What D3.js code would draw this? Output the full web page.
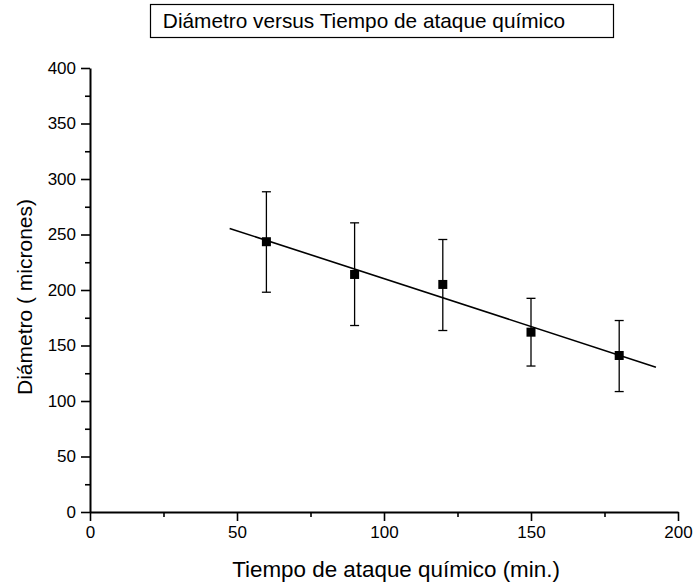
<!DOCTYPE html>
<html>
<head>
<meta charset="utf-8">
<script src="https://cdn.jsdelivr.net/npm/d3@7"></script>
<style>
  body { margin: 0; background: #fff; }
  svg text { font-family: "Liberation Sans", Arial, sans-serif; fill: #000; }
</style>
</head>
<body>
<div id="main"></div>
<script>
// tiempo de ataque (min) y diametro medido (micrones)
var tiempo   = [60, 90, 120, 150, 180];
var diametro = [243.5, 214, 205, 162, 141];
var errSup   = [288.5, 260.5, 245.5, 192.5, 172.5];
var errInf   = [198, 168, 163.5, 131.5, 108.5];

// recta de ajuste (extremos)
var ajusteX = [47.5, 192.5];
var ajusteY = [255.5, 130.5];

var xMayores = [0, 50, 100, 150, 200];
var xMenores = [25, 75, 125, 175];
var yMayores = [0, 50, 100, 150, 200, 250, 300, 350, 400];
var yMenores = [25, 75, 125, 175, 225, 275, 325, 375];

var width = 693,
    height = 582;

var svg = d3.select("#main")
  .append("svg")
    .attr("width", width)
    .attr("height", height)
    .style("background-color", "white");

var x = d3.scaleLinear().domain([0, 200]).range([90, 678]);
var y = d3.scaleLinear().domain([0, 400]).range([512, 68]);

/* titulo con recuadro */
svg.append("rect")
  .attr("x", 150.5).attr("y", 4.5)
  .attr("width", 463).attr("height", 33)
  .attr("fill", "none").attr("stroke", "#000").attr("stroke-width", 1.2);

svg.append("text")
  .attr("x", 364).attr("y", 28)
  .attr("text-anchor", "middle")
  .style("font-size", "20.8px")
  .text("Diámetro versus Tiempo de ataque químico");

/* ejes */
svg.append("g")
  .attr("transform", "translate(0," + y(0) + ")")
  .call(d3.axisBottom(x).tickValues(xMayores).tickSize(9).tickSizeOuter(0).tickPadding(5));
svg.append("g")
  .attr("transform", "translate(0," + y(0) + ")")
  .call(d3.axisBottom(x).tickValues(xMenores).tickSize(5).tickFormat(""))
  .select(".domain").remove();

svg.append("g")
  .attr("transform", "translate(" + x(0) + ",0)")
  .call(d3.axisLeft(y).tickValues(yMayores).tickSize(9).tickSizeOuter(0).tickPadding(5));
svg.append("g")
  .attr("transform", "translate(" + x(0) + ",0)")
  .call(d3.axisLeft(y).tickValues(yMenores).tickSize(5).tickFormat(""))
  .select(".domain").remove();

svg.selectAll(".domain").attr("stroke-width", 2);
svg.selectAll(".tick line").attr("stroke-width", 1.6);
svg.selectAll(".tick text").style("font-size", "17px").style("font-family", "'Liberation Sans', Arial, sans-serif");

/* titulos de ejes */
svg.append("text")
  .attr("x", 396).attr("y", 577)
  .attr("text-anchor", "middle")
  .style("font-size", "22.4px")
  .text("Tiempo de ataque químico (min.)");

svg.append("text")
  .attr("transform", "translate(32,297) rotate(-90)")
  .attr("text-anchor", "middle")
  .style("font-size", "21px")
  .text("Diámetro ( micrones)");

/* recta de ajuste */
var linea = d3.line()
  .x(function(d) { return x(d[0]); })
  .y(function(d) { return y(d[1]); });

svg.append("path")
  .datum(d3.zip(ajusteX, ajusteY))
  .attr("d", linea)
  .attr("fill", "none")
  .attr("stroke", "#000")
  .attr("stroke-width", 1.6);

/* barras de error */
var barras = svg.selectAll(".err")
  .data(tiempo)
  .enter().append("g")
    .attr("class", "err");

barras.append("line")
  .attr("x1", function(d) { return x(d); })
  .attr("x2", function(d) { return x(d); })
  .attr("y1", function(d, i) { return y(errSup[i]); })
  .attr("y2", function(d, i) { return y(errInf[i]); })
  .attr("stroke", "#000").attr("stroke-width", 1.3);

barras.append("line")
  .attr("x1", function(d) { return x(d) - 4.5; })
  .attr("x2", function(d) { return x(d) + 4.5; })
  .attr("y1", function(d, i) { return y(errSup[i]); })
  .attr("y2", function(d, i) { return y(errSup[i]); })
  .attr("stroke", "#000").attr("stroke-width", 1.3);

barras.append("line")
  .attr("x1", function(d) { return x(d) - 4.5; })
  .attr("x2", function(d) { return x(d) + 4.5; })
  .attr("y1", function(d, i) { return y(errInf[i]); })
  .attr("y2", function(d, i) { return y(errInf[i]); })
  .attr("stroke", "#000").attr("stroke-width", 1.3);

/* puntos */
svg.selectAll(".punto")
  .data(tiempo)
  .enter().append("rect")
    .attr("class", "punto")
    .attr("x", function(d) { return x(d) - 4.5; })
    .attr("y", function(d, i) { return y(diametro[i]) - 4.5; })
    .attr("width", 9)
    .attr("height", 9)
    .attr("fill", "#000");
</script>
</body>
</html>
